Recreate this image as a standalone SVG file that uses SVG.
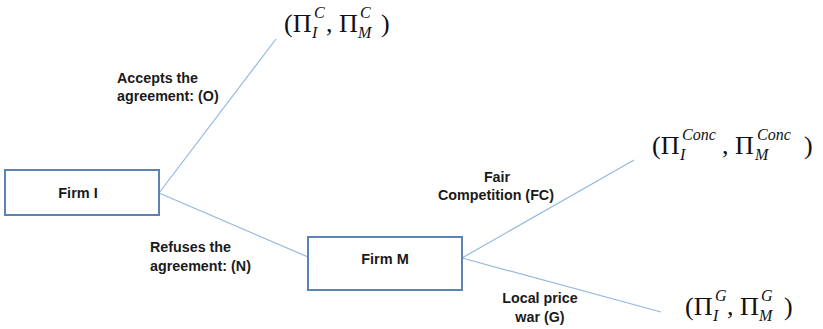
<svg xmlns="http://www.w3.org/2000/svg" width="823" height="329" viewBox="0 0 823 329">
<style>
.box{fill:#ffffff;stroke:#5b84b4;stroke-width:2}
.edge{stroke:#94b8e0;stroke-width:1.2;fill:none}
.lbl{font-family:"Liberation Sans",Arial,sans-serif;font-weight:bold;font-size:14.3px;fill:#1a1a1a}
.node{font-family:"Liberation Sans",Arial,sans-serif;font-weight:bold;font-size:14.5px;fill:#1a1a1a;text-anchor:middle}
.pay{font-family:"Liberation Serif","DejaVu Serif",serif;font-size:26px;fill:#111}
.s{font-style:italic;font-size:16px}
</style>
<rect width="823" height="329" fill="#ffffff"/>
<g id="connectors">
<line class="edge" x1="159" y1="193" x2="276" y2="39"/>
<line class="edge" x1="159" y1="193" x2="308" y2="257"/>
<line class="edge" x1="462" y1="258" x2="634" y2="160"/>
<line class="edge" x1="462" y1="258" x2="661" y2="312"/>
</g>
<g id="firmI">
<rect class="box" x="5" y="170" width="154" height="45"/>
<text class="node" x="78" y="198">Firm I</text>
</g>
<g id="firmM">
<rect class="box" x="308" y="237" width="154" height="53"/>
<text class="node" x="385" y="264">Firm M</text>
</g>
<g id="labels">
<text class="lbl"><tspan x="117" y="83">Accepts the</tspan><tspan x="117" y="101">agreement: (O)</tspan></text>
<text class="lbl"><tspan x="150" y="252">Refuses the</tspan><tspan x="150" y="271">agreement: (N)</tspan></text>
<text class="lbl" text-anchor="middle"><tspan x="497" y="182">Fair</tspan><tspan x="496" y="200">Competition (FC)</tspan></text>
<text class="lbl" text-anchor="middle"><tspan x="540" y="303">Local price</tspan><tspan x="540" y="322">war (G)</tspan></text>
</g>
<g id="payoffC">
<text class="pay"><tspan x="284" y="32">(Π</tspan><tspan class="s" x="314" y="18">C</tspan><tspan class="s" x="312" y="38">I</tspan><tspan x="326" y="32">, Π</tspan><tspan class="s" x="360" y="18">C</tspan><tspan class="s" x="358" y="38">M</tspan><tspan x="381" y="32">)</tspan></text>
</g>
<g id="payoffConc">
<text class="pay"><tspan x="652" y="154">(Π</tspan><tspan class="s" x="682" y="140">Conc</tspan><tspan class="s" x="680" y="160">I</tspan><tspan x="722" y="154">, Π</tspan><tspan class="s" x="757" y="140">Conc</tspan><tspan class="s" x="755" y="160">M</tspan><tspan x="804" y="154">)</tspan></text>
</g>
<g id="payoffG">
<text class="pay"><tspan x="685" y="315">(Π</tspan><tspan class="s" x="715" y="301">G</tspan><tspan class="s" x="713" y="321">I</tspan><tspan x="727" y="315">, Π</tspan><tspan class="s" x="761" y="301">G</tspan><tspan class="s" x="759" y="321">M</tspan><tspan x="784" y="315">)</tspan></text>
</g>
</svg>
